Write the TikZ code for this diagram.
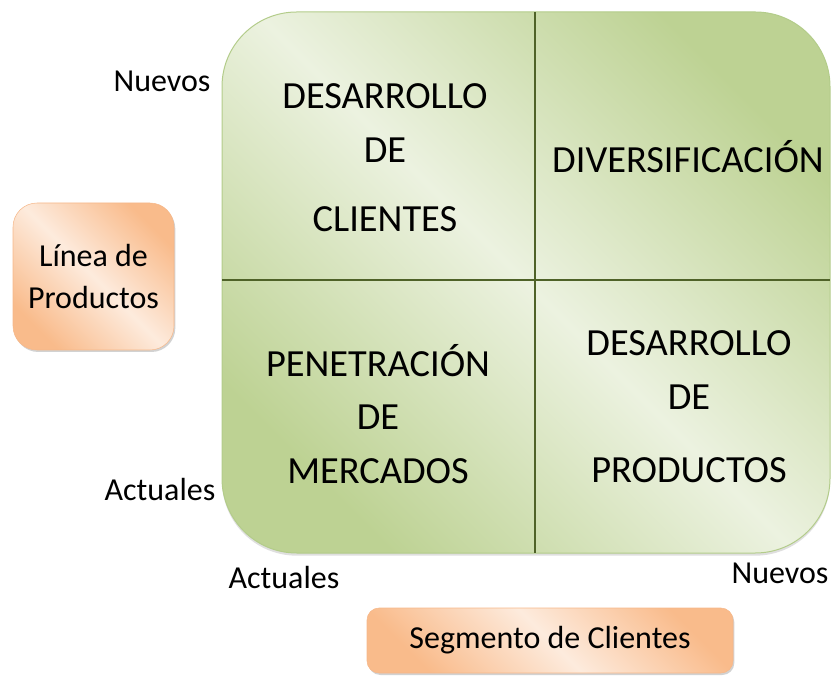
\documentclass[tikz,border=0pt]{standalone}
\usepackage{fontspec}
\setmainfont{Carlito}
\usepackage{tikz}
\usetikzlibrary{shadows}
\definecolor{greenlight}{HTML}{ECF2E0}
\definecolor{greendark}{HTML}{BDD293}
\definecolor{greenedge}{HTML}{B3CC8A}
\definecolor{greenline}{HTML}{4F6228}
\definecolor{orangedark}{HTML}{F9BB8B}
\definecolor{orangelight}{HTML}{FDEBDD}
\definecolor{orangeedge}{HTML}{F6B88A}
\tikzstyle{quadtext} = [align=center, inner sep=0pt, font=\fontsize{28.8}{40}\selectfont]
\tikzstyle{axislabel} = [inner sep=0pt, font=\fontsize{24}{28}\selectfont]
\tikzstyle{tag} = [rectangle, draw=orangeedge, left color=orangedark, right color=orangedark, middle color=orangelight, shading angle=-45, drop shadow={shadow xshift=1pt, shadow yshift=-1.5pt, fill=black!35}, align=center, font=\fontsize{24}{32}\selectfont]
\tikzstyle{divider} = [draw=greenline, line width=1.5pt]

\begin{document}
\begin{tikzpicture}[x=0.75pt, y=0.75pt]
\useasboundingbox (0,0) rectangle (831,675);

% matrix frame, shaded dark at two corners and light across the middle
\shade[draw=greenedge, line width=0.75pt, rounded corners=56pt, left color=greendark, right color=greendark, middle color=greenlight, shading angle=-45, drop shadow={shadow xshift=0pt, shadow yshift=-2pt, fill=black!25}] (222,122) rectangle (830,663);

\coordinate (vtop) at (535,663);
\coordinate (vbot) at (535,122);
\coordinate (hleft) at (222,395);
\coordinate (hright) at (830,395);
\draw [divider] (vtop) -- (vbot);
\draw [divider] (hleft) -- (hright);

% quadrant texts
\node (clientes) [quadtext] at (385,517) {DESARROLLO\\DE\\[12pt]CLIENTES};
\node (diversif) [quadtext] at (688,518) {DIVERSIFICACIÓN};
\node (mercados) [quadtext] at (378,261) {PENETRACIÓN\\DE\\MERCADOS};
\node (productos) [quadtext] at (689,268) {DESARROLLO\\DE\\[15pt]PRODUCTOS};

% axis labels
\node (nuevosy) [axislabel] at (162,594) {Nuevos};
\node (actualesy) [axislabel] at (160,185) {Actuales};
\node (actualesx) [axislabel] at (284,97) {Actuales};
\node (nuevosx) [axislabel] at (780,102) {Nuevos};

% axis titles
\node (lineaprod) [tag, rounded corners=18pt, minimum width=120.75pt, minimum height=110.25pt] at (93.5,398.5) {Línea de\\Productos};
\node (segmento) [tag, rounded corners=9pt, minimum width=274.5pt, minimum height=48.75pt] at (550,34.5) {Segmento de Clientes};
\end{tikzpicture}
\end{document}
